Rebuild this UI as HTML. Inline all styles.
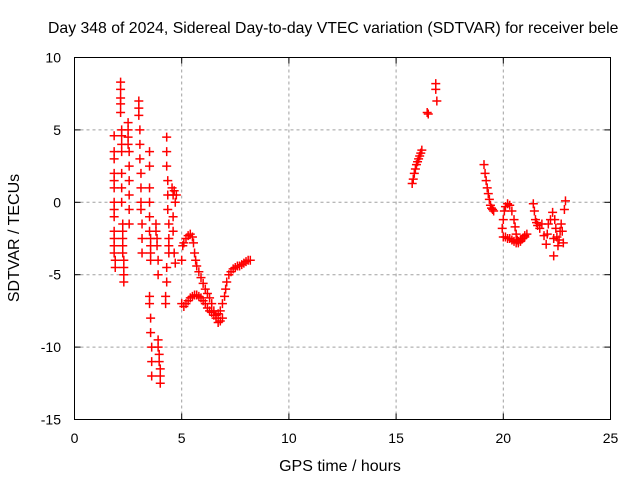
<!DOCTYPE html>
<html><head><meta charset="utf-8"><style>
body{margin:0;background:#fff}
svg{display:block;font-family:"Liberation Sans",sans-serif}
</style></head><body>
<svg id="c" width="640" height="480">
<text x="48" y="33" font-size="15.8">Day 348 of 2024, Sidereal Day-to-day VTEC variation (SDTVAR) for receiver bele</text>
<g id="grid"></g><g id="axes"></g><g id="marks"></g>
<rect x="74.5" y="57.5" width="536" height="362" fill="none" stroke="#000"/>
<text x="340" y="471" font-size="16" text-anchor="middle">GPS time / hours</text>
<text transform="translate(19,238) rotate(-90)" font-size="16" text-anchor="middle">SDTVAR / TECUs</text>
</svg>
<script>
const xTicks=[0,5,10,15,20,25];
const yTicks=[10,5,0,-5,-10,-15];
const seriesHours=[
1.85,1.85,1.85,1.85,1.85,1.85,1.85,1.85,1.85,1.85,1.85,1.85,1.85,1.9,1.9,
2.15,2.15,2.15,2.15,2.15,2.2,2.2,2.2,2.2,2.2,2.2,2.2,2.25,2.25,2.25,2.25,2.25,2.3,2.3,2.3,2.3,
2.5,2.5,2.5,2.5,2.55,2.55,2.55,2.55,2.55,2.55,
3.0,3.0,3.0,3.05,3.05,3.05,3.1,3.1,3.1,3.1,3.15,3.15,3.15,
3.5,3.5,3.5,3.5,3.5,3.5,3.55,3.55,3.55,3.55,3.5,3.5,3.55,3.55,3.6,3.6,3.6,
3.8,3.8,3.85,3.85,3.9,3.9,3.95,3.95,4.0,4.0,4.0,3.9,3.9,
4.3,4.3,4.3,4.35,4.35,4.35,4.4,4.4,4.4,4.4,4.3,4.3,4.25,4.25,
4.55,4.6,4.65,4.7,4.75,4.6,4.6,4.65,4.7,
5.0,5.1,5.2,5.3,5.4,5.5,5.6,5.7,5.8,5.9,6.0,6.1,6.2,6.3,6.4,6.5,6.6,6.7,6.8,6.9,7.0,7.05,7.1,7.2,7.3,7.4,7.5,7.6,7.7,7.8,7.9,8.0,8.1,8.2,
5.0,5.05,5.1,5.2,5.3,5.4,5.5,5.55,5.6,5.65,5.7,5.8,5.9,6.0,6.1,6.2,6.3,6.4,6.5,6.6,6.7,6.8,6.9,
15.75,15.8,15.85,15.9,15.95,16.0,16.05,16.1,16.15,16.2,16.45,16.5,16.85,16.85,16.9,
19.1,19.15,19.2,19.25,19.3,19.35,19.4,19.45,19.5,19.55,
19.95,20.0,20.05,20.1,20.2,20.3,20.4,20.5,20.55,20.6,20.65,20.7,20.8,20.9,21.0,21.1,
20.0,20.1,20.2,20.3,20.4,20.5,20.6,20.7,20.8,20.9,21.0,
21.4,21.45,21.5,21.55,21.6,21.7,21.8,21.9,22.0,22.05,22.1,22.2,22.3,22.35,22.35,22.4,22.45,22.5,22.55,22.6,22.65,22.7,22.75,22.8,22.85,22.9];
const seriesValues=[
4.6,3.5,3,2,1.5,1,0,-0.5,-1,-2,-2.5,-3,-3.5,-4,-4.5,
8.3,7.8,7.2,6.8,6.2,5,4.6,4,3.5,2,1,0,-1.5,-2,-2.5,-3,-3.5,-4,-4.5,-5,-5.5,
5.5,5,4.5,4,3.5,2.5,1.5,0.5,-0.5,-1.5,
7,6.5,6,5,4,3,2,1,0,-0.5,-1.5,-2.5,-3.5,
3.5,2.5,1,0,-1,-2,-2.5,-3,-3.5,-4,-6.5,-7,-8,-9,-10,-11,-12,
-1.5,-2,-2.5,-3,-9.5,-10,-10.5,-11,-11.5,-12,-12.5,-4,-5,
4.5,3.5,2.5,1.5,0.5,-0.5,-1.5,-2.5,-3,-3.5,-4.5,-5.5,-6.5,-7,
1,0.5,0.8,0,0.5,-1,-2,-3.5,-4.2,
-7,-7.2,-7,-6.8,-6.6,-6.5,-6.4,-6.4,-6.5,-6.6,-6.8,-7,-7.3,-7.5,-7.6,-7.8,-7.8,-7.7,-7.5,-7,-6.5,-6,-5.5,-5,-4.8,-4.6,-4.5,-4.4,-4.4,-4.3,-4.2,-4.1,-4,-4,
-4,-3,-2.8,-2.5,-2.3,-2.2,-2.4,-2.8,-3.5,-4,-4.4,-4.8,-5.2,-5.6,-6,-6.3,-6.6,-7,-7.5,-8,-8.3,-8.2,-8,
1.3,1.6,2,2.3,2.6,2.8,3,3.2,3.4,3.6,6.2,6.1,8.2,7.8,7,
2.6,2,1.5,1,0.6,0.2,-0.2,-0.4,-0.5,-0.6,
-1.8,-1.2,-0.6,-0.3,-0.1,-0.2,-0.6,-1.2,-1.7,-2.2,-2.6,-2.8,-2.7,-2.5,-2.3,-2.2,
-2.4,-2.4,-2.5,-2.5,-2.6,-2.7,-2.8,-2.7,-2.6,-2.5,-2.4,
-0.1,-0.6,-1.2,-1.4,-1.6,-1.8,-1.5,-2.3,-2.9,-2.2,-1.5,-1.2,-0.7,-2.5,-3.7,-1.2,-1.8,-2.4,-3.0,-2.6,-2.0,-1.5,-2.0,-2.8,-0.5,0.1];
const NS="http://www.w3.org/2000/svg";
const X0=74.5,X1=610.5,Y0=419.5,Y1=57.5;
const xs=h=>X0+(h-0)/(25-0)*(X1-X0);
const ys=v=>Y0-(v-(-15))/(10-(-15))*(Y0-Y1);
const grid=document.getElementById('grid'),axes=document.getElementById('axes'),marks=document.getElementById('marks');
function mk(tag,attrs,parent){const e=document.createElementNS(NS,tag);for(const k in attrs)e.setAttribute(k,attrs[k]);parent.appendChild(e);return e;}
xTicks.forEach(t=>{const x=xs(t);
 if(t>0&&t<25){const g=mk('line',{x1:x,x2:x,y1:Y1,y2:Y0,stroke:'#a0a0a0','stroke-dasharray':'3,3'},grid);
 
 }
 mk('line',{x1:x,x2:x,y1:Y0,y2:Y0-6,stroke:'#000'},axes);mk('line',{x1:x,x2:x,y1:Y1,y2:Y1+6,stroke:'#000'},axes);
 const tx=mk('text',{x:x,y:443,'font-size':14,'text-anchor':'middle'},axes);tx.textContent=t;
 
 });
yTicks.forEach(t=>{const y=ys(t);
 if(t>-15&&t<10){const g=mk('line',{x1:X0,x2:X1,y1:y,y2:y,stroke:'#a0a0a0','stroke-dasharray':'3,3'},grid);
 
 }
 mk('line',{x1:X0,x2:X0+6,y1:y,y2:y,stroke:'#000'},axes);mk('line',{x1:X1,x2:X1-6,y1:y,y2:y,stroke:'#000'},axes);
 const tx=mk('text',{x:61,y:y+5,'font-size':14,'text-anchor':'end'},axes);tx.textContent=t;
 
 });
seriesHours.forEach((h,i)=>{const x=xs(h),y=ys(seriesValues[i]);
 const p=mk('path',{d:`M${x-4.5},${y}H${x+4.5}M${x},${y-4.5}V${y+4.5}`,stroke:'#ff0000','stroke-width':1.5,fill:'none'},marks);
 
 });
</script>
</body></html>
